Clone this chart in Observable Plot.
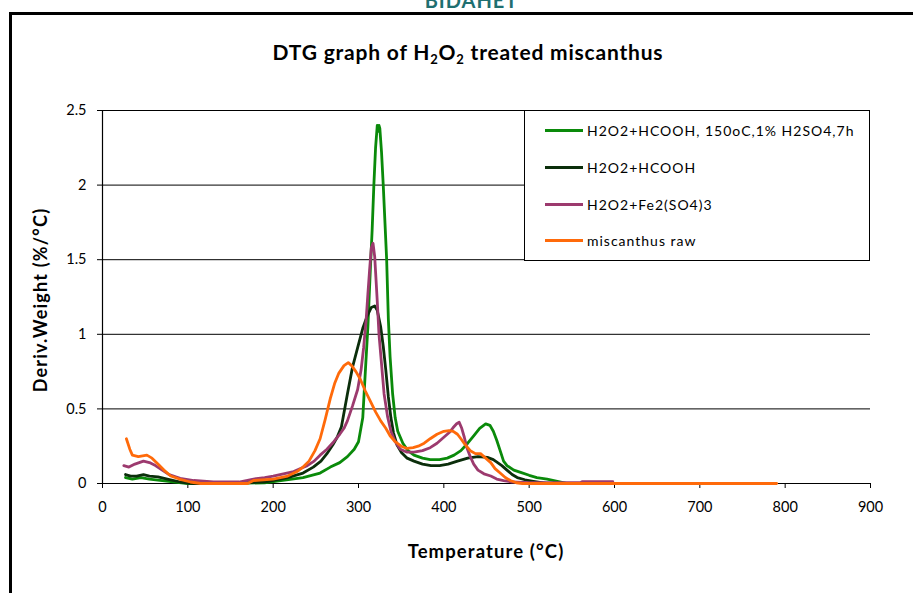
<!DOCTYPE html>
<html><head><meta charset="utf-8">
<script src="https://cdn.jsdelivr.net/npm/d3@7"></script>
<script src="https://cdn.jsdelivr.net/npm/@observablehq/plot@0.6"></script>
<style>
html,body{margin:0;padding:0;background:#fff;}
body{width:913px;height:593px;position:relative;overflow:hidden;font-family:Lato,"Open Sans",sans-serif;}
#frame{position:absolute;left:9px;top:12px;width:1000px;height:700px;border:3px solid #000;box-sizing:border-box;}
#wm{position:absolute;left:0;width:913px;top:-12px;text-align:center;font:bold 20px Lato,sans-serif;color:#1f6f70;letter-spacing:1px;padding-left:30px;box-sizing:border-box;}
#title{position:absolute;left:0;width:936px;top:39px;text-align:center;font:bold 21px Lato,sans-serif;color:#000;letter-spacing:0.8px;}
#title sub{font-size:13px;vertical-align:-4px;line-height:0;}
#chart{position:absolute;left:0;top:0;}
#ylab{position:absolute;left:40px;top:300px;transform:translate(-50%,-50%) rotate(-90deg);white-space:nowrap;font:bold 18px Lato,sans-serif;letter-spacing:1.2px;}
#xlab{position:absolute;left:486px;top:551px;transform:translate(-50%,-50%);white-space:nowrap;font:bold 18.5px Lato,sans-serif;letter-spacing:1.1px;}
#legend{position:absolute;left:524px;top:110px;width:346px;height:151px;border:1px solid #000;background:#fff;box-sizing:border-box;}
.item{position:absolute;left:20px;height:18px;display:flex;align-items:center;font:14px Lato,sans-serif;letter-spacing:1px;white-space:nowrap;}
.sw{width:38px;height:3px;margin-right:4px;}
</style></head>
<body>
<div id="frame"></div>
<div id="wm">BIDAHET</div>
<div id="title">DTG graph of H<sub>2</sub>O<sub>2</sub> treated miscanthus</div>
<div id="chart"></div>
<div id="ylab">Deriv.Weight (%/°C)</div>
<div id="xlab">Temperature (°C)</div>
<div id="legend"></div>
<script>
// Series names and colours
const seriesNames = ["H2O2+HCOOH, 150oC,1% H2SO4,7h", "H2O2+HCOOH", "H2O2+Fe2(SO4)3", "miscanthus raw"];
const seriesColors = ["#0a8a0a", "#0b2e0b", "#9c3a6e", "#ff6a0a"];
const xTicks = [0, 100, 200, 300, 400, 500, 600, 700, 800, 900];
const yTicks = [0, 0.5, 1, 1.5, 2, 2.5];

// [temperature °C, deriv. weight %/°C]
const treated150 = [[27,0.04],[35,0.03],[45,0.04],[55,0.03],[70,0.02],[85,0.01],[100,0.0],[150,0],[190,0.005],[209,0.02],[235,0.04],[255,0.07],[267,0.11],[278,0.14],[287,0.18],[295,0.23],[300,0.28],[305,0.44],[308,0.75],[311,1.05],[314,1.45],[316,1.7],[318,2.0],[320,2.25],[322,2.40],[323,2.36],[324,2.40],[325,2.38],[327,2.22],[329,2.0],[331,1.75],[333,1.5],[335,1.1],[337,0.85],[340,0.6],[343,0.44],[346,0.35],[352,0.27],[358,0.22],[365,0.19],[375,0.17],[384,0.16],[395,0.16],[404,0.17],[412,0.19],[420,0.22],[428,0.27],[435,0.32],[442,0.37],[449,0.40],[454,0.39],[458,0.35],[462,0.29],[466,0.22],[470,0.15],[474,0.12],[482,0.09],[490,0.075],[500,0.055],[509,0.04],[521,0.03],[533,0.015],[545,0]];
const hcooh = [[27,0.06],[33,0.05],[40,0.05],[48,0.06],[55,0.05],[65,0.045],[76,0.03],[91,0.01],[105,0.0],[150,0],[190,0.01],[217,0.04],[235,0.07],[247,0.11],[256,0.15],[263,0.20],[270,0.26],[275,0.31],[280,0.38],[287,0.60],[293,0.78],[299,0.91],[305,1.04],[310,1.12],[315,1.18],[319,1.19],[322,1.16],[326,1.05],[329,0.92],[332,0.76],[335,0.58],[338,0.44],[341,0.34],[345,0.26],[350,0.21],[357,0.17],[365,0.15],[375,0.13],[385,0.12],[395,0.12],[405,0.13],[416,0.15],[428,0.17],[440,0.18],[451,0.175],[458,0.16],[463,0.14],[468,0.12],[474,0.09],[480,0.06],[486,0.04],[495,0.025],[505,0.015],[520,0]];
const fenton = [[25,0.12],[31,0.11],[38,0.13],[48,0.15],[55,0.14],[62,0.12],[70,0.09],[78,0.06],[91,0.035],[107,0.02],[130,0.01],[160,0.01],[177,0.03],[190,0.04],[200,0.05],[212,0.065],[224,0.08],[232,0.10],[240,0.12],[248,0.15],[255,0.19],[263,0.23],[271,0.28],[278,0.33],[283,0.37],[287,0.42],[293,0.52],[299,0.63],[303,0.76],[306,0.91],[309,1.10],[311,1.27],[313,1.43],[315,1.58],[317,1.61],[319,1.52],[320,1.42],[322,1.22],[324,1.00],[327,0.80],[330,0.60],[334,0.45],[338,0.35],[343,0.28],[349,0.23],[357,0.21],[365,0.21],[375,0.22],[384,0.24],[392,0.27],[400,0.31],[406,0.34],[411,0.375],[415,0.40],[418,0.41],[421,0.37],[424,0.31],[427,0.24],[431,0.18],[435,0.13],[440,0.09],[447,0.065],[455,0.05],[462,0.03],[470,0.02],[480,0.01],[500,0.005],[560,0.005],[562,0.012],[598,0.012]];
const raw = [[28,0.30],[32,0.23],[35,0.19],[42,0.18],[52,0.19],[58,0.17],[65,0.13],[72,0.09],[80,0.05],[90,0.03],[103,0.01],[115,0],[170,0],[177,0.02],[200,0.03],[217,0.05],[228,0.08],[235,0.11],[242,0.15],[249,0.22],[255,0.30],[261,0.43],[267,0.57],[272,0.67],[277,0.74],[283,0.79],[288,0.81],[292,0.79],[297,0.75],[302,0.70],[308,0.62],[314,0.55],[320,0.48],[326,0.42],[332,0.37],[337,0.32],[343,0.28],[350,0.25],[357,0.235],[364,0.24],[370,0.25],[377,0.27],[384,0.30],[392,0.33],[400,0.35],[406,0.355],[411,0.35],[416,0.33],[420,0.30],[425,0.26],[431,0.22],[437,0.20],[443,0.20],[449,0.17],[455,0.14],[460,0.10],[466,0.07],[472,0.04],[478,0.02],[485,0.005],[492,0],[790,0]];

const allSeries = [treated150, hcooh, fenton, raw];
const rows = allSeries.flatMap((s, i) => s.map(([t, d]) => ({t, d, series: seriesNames[i]})));

const chart = Plot.plot({
  width: 913, height: 593,
  marginLeft: 102, marginRight: 43, marginTop: 110, marginBottom: 110,
  style: {fontFamily: "Lato, sans-serif", fontSize: "14.5px", color: "#000", background: "transparent", overflow: "visible"},
  x: {domain: [0, 900], ticks: xTicks, tickSize: 5, tickPadding: 13, label: null, tickFormat: d => String(d)},
  y: {domain: [0, 2.5], ticks: yTicks, tickSize: 5, tickPadding: 11, label: null, tickFormat: d => String(d)},
  color: {domain: seriesNames, range: seriesColors},
  marks: [
    Plot.ruleY(yTicks.slice(1), {stroke: "#000", strokeWidth: 1}),
    Plot.ruleY([0], {stroke: "#000", strokeWidth: 1.2}),
    Plot.ruleX([0], {stroke: "#000", strokeWidth: 1.2}),
    Plot.line(rows, {x: "t", y: "d", z: "series", stroke: "series", strokeWidth: 2.8, curve: "linear", strokeLinejoin: "round"})
  ]
});
document.getElementById("chart").appendChild(chart);

// Legend
const leg = document.getElementById("legend");
const itemTops = [10, 47, 84, 120];
seriesNames.forEach((name, i) => {
  const it = document.createElement("div");
  it.className = "item";
  it.style.top = itemTops[i] + "px";
  const sw = document.createElement("div");
  sw.className = "sw";
  sw.style.background = seriesColors[i];
  const tx = document.createElement("span");
  tx.textContent = name;
  it.appendChild(sw); it.appendChild(tx);
  leg.appendChild(it);
});
</script>
</body></html>
